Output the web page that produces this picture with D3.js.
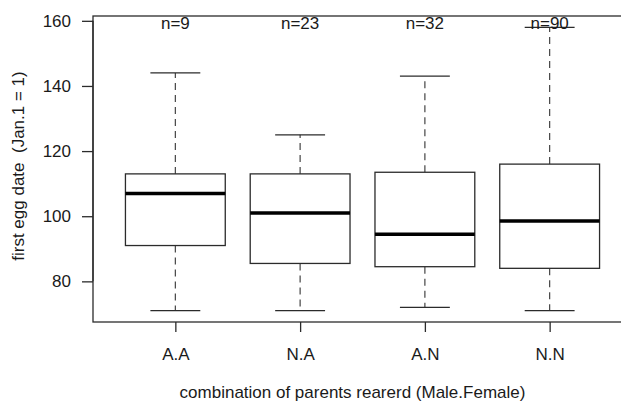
<!DOCTYPE html>
<html>
<head>
<meta charset="utf-8">
<script src="https://cdn.jsdelivr.net/npm/d3@7"></script>
<style>
  html, body { margin: 0; padding: 0; background: #fff; }
  svg { display: block; }
  text { font-family: "Liberation Sans", Arial, sans-serif; fill: #1a1a1a; }
</style>
</head>
<body>
<svg id="chart" width="621" height="403"></svg>
<script>
// Groups: combination of parents reared (Male.Female)
const groups = ["A.A", "N.A", "A.N", "N.N"];
const counts = [9, 23, 32, 90];
// Five-number summaries of first egg date (day of year)
const whiskerLow = [71, 71, 72, 71];
const q1 = [91, 85.5, 84.5, 84];
const medians = [107, 101, 94.5, 98.5];
const q3 = [113, 113, 113.5, 116];
const whiskerHigh = [144, 125, 143, 158];
const yTicks = [80, 100, 120, 140, 160];

const svg = d3.select("#chart");
const plotLeft = 93, plotRight = 632, plotTop = 16, plotBottom = 322;
const fontSize = "17px";

// Numeric x domain with padding like a classic boxplot (0.5..n+0.5, plus 4%)
const n = groups.length;
const x = d3.scaleLinear()
  .domain([0.5 - n * 0.04, n + 0.5 + n * 0.04])
  .range([plotLeft, plotRight]);

const yMin = d3.min(whiskerLow), yMax = d3.max(whiskerHigh);
const yPad = (yMax - yMin) * 0.04;
const y = d3.scaleLinear()
  .domain([yMin - yPad, yMax + yPad])
  .range([plotBottom, plotTop]);

const stroke = "#2b2b2b";
const unit = x(2) - x(1);
const boxHalf = unit * 0.4;
const capHalf = boxHalf * 0.5;

const data = groups.map((g, i) => ({
  g, i: i + 1, n: counts[i],
  lo: whiskerLow[i], q1: q1[i], med: medians[i], q3: q3[i], hi: whiskerHigh[i]
}));

const boxes = svg.append("g").selectAll("g").data(data).join("g");

// whiskers (dashed)
boxes.append("line")
  .attr("x1", d => x(d.i)).attr("x2", d => x(d.i))
  .attr("y1", d => y(d.q3)).attr("y2", d => y(d.hi))
  .attr("stroke", "#444").attr("stroke-width", 1.2).attr("stroke-dasharray", "7,5");
boxes.append("line")
  .attr("x1", d => x(d.i)).attr("x2", d => x(d.i))
  .attr("y1", d => y(d.q1)).attr("y2", d => y(d.lo))
  .attr("stroke", "#444").attr("stroke-width", 1.2).attr("stroke-dasharray", "7,5");

// staples
boxes.append("line")
  .attr("x1", d => x(d.i) - capHalf).attr("x2", d => x(d.i) + capHalf)
  .attr("y1", d => y(d.hi)).attr("y2", d => y(d.hi))
  .attr("stroke", stroke).attr("stroke-width", 1.3);
boxes.append("line")
  .attr("x1", d => x(d.i) - capHalf).attr("x2", d => x(d.i) + capHalf)
  .attr("y1", d => y(d.lo)).attr("y2", d => y(d.lo))
  .attr("stroke", stroke).attr("stroke-width", 1.3);

// boxes
boxes.append("rect")
  .attr("x", d => x(d.i) - boxHalf)
  .attr("width", boxHalf * 2)
  .attr("y", d => y(d.q3))
  .attr("height", d => y(d.q1) - y(d.q3))
  .attr("fill", "#fff").attr("stroke", stroke).attr("stroke-width", 1.3);

// medians
boxes.append("line")
  .attr("x1", d => x(d.i) - boxHalf).attr("x2", d => x(d.i) + boxHalf)
  .attr("y1", d => y(d.med)).attr("y2", d => y(d.med))
  .attr("stroke", "#000").attr("stroke-width", 3.5);

// sample sizes
boxes.append("text")
  .attr("x", d => x(d.i)).attr("y", 29)
  .attr("text-anchor", "middle")
  .style("font-size", fontSize)
  .text(d => "n=" + d.n);

// frame
svg.append("rect")
  .attr("x", plotLeft).attr("y", plotTop)
  .attr("width", plotRight - plotLeft).attr("height", plotBottom - plotTop)
  .attr("fill", "none").attr("stroke", stroke).attr("stroke-width", 1.3);

// y axis
const yAxis = d3.axisLeft(y).tickValues(yTicks).tickSize(11).tickPadding(11);
const gy = svg.append("g").attr("transform", `translate(${plotLeft},0)`).call(yAxis);
gy.select(".domain").attr("d", `M0,${y(yTicks[0])}V${y(yTicks[yTicks.length - 1])}`)
  .attr("stroke", stroke).attr("stroke-width", 1.3);
gy.selectAll(".tick line").attr("stroke", stroke).attr("stroke-width", 1.3);
gy.selectAll(".tick text").style("font-size", fontSize)
  .attr("font-family", "Liberation Sans, Arial, sans-serif").attr("fill", "#1a1a1a");

// x axis
const xAxis = d3.axisBottom(x).tickValues(d3.range(1, n + 1))
  .tickFormat(d => groups[d - 1]).tickSize(10).tickPadding(16);
const gx = svg.append("g").attr("transform", `translate(0,${plotBottom})`).call(xAxis);
gx.select(".domain").remove();
gx.selectAll(".tick line").attr("stroke", stroke).attr("stroke-width", 1.3);
gx.selectAll(".tick text").style("font-size", fontSize)
  .attr("font-family", "Liberation Sans, Arial, sans-serif").attr("fill", "#1a1a1a");

// axis titles
svg.append("text")
  .attr("x", (plotLeft + 612) / 2).attr("y", 398)
  .attr("text-anchor", "middle")
  .style("font-size", fontSize)
  .text("combination of parents rearerd (Male.Female)");

svg.append("text")
  .attr("transform", `translate(24,166) rotate(-90)`)
  .attr("text-anchor", "middle")
  .style("font-size", fontSize)
  .style("white-space", "pre")
  .text("first egg date  (Jan.1 = 1)");
</script>
</body>
</html>
